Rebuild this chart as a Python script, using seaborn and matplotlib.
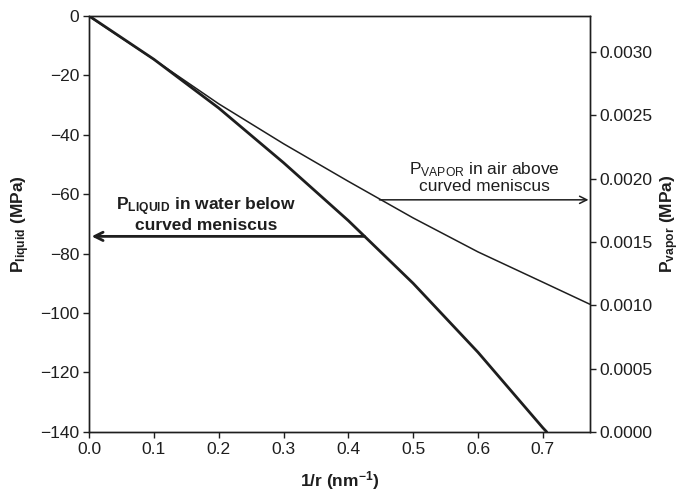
import matplotlib
matplotlib.use("Agg")
import matplotlib.pyplot as plt
import seaborn as sns
import pandas as pd

# Data
x_liquid = [0.0, 0.1, 0.2, 0.3, 0.4, 0.5, 0.6, 0.7, 0.706]
p_liquid = [0.0, -14.6, -31.0, -49.4, -68.9, -90.0, -113.2, -138.6, -140.0]

x_vapor = [0.0, 0.1, 0.16, 0.2, 0.3, 0.4, 0.5, 0.6, 0.7, 0.7725]
p_vapor = [0.00328, 0.00294, 0.00273, 0.00259, 0.002275, 0.001978, 0.001689, 0.001421, 0.001182, 0.001008]

x_ticks = [0.0, 0.1, 0.2, 0.3, 0.4, 0.5, 0.6, 0.7]
left_ticks = [0, -20, -40, -60, -80, -100, -120, -140]
right_ticks = [0.0, 0.0005, 0.0010, 0.0015, 0.0020, 0.0025, 0.0030]

sns.set_style("ticks")
plt.rcParams["font.family"] = ["Liberation Sans", "DejaVu Sans"]
plt.rcParams["mathtext.fontset"] = "custom"
plt.rcParams["mathtext.rm"] = "Liberation Sans"
plt.rcParams["mathtext.it"] = "Liberation Sans:italic"
plt.rcParams["mathtext.bf"] = "Liberation Sans:bold"
plt.rcParams["axes.unicode_minus"] = True

ink = "#1e1e1e"
fs = 12.5
fig = plt.figure(figsize=(6.85, 4.97), dpi=100)
ax = fig.add_axes([0.130, 0.131, 0.731, 0.837])

df_l = pd.DataFrame({"x": x_liquid, "y": p_liquid})
df_v = pd.DataFrame({"x": x_vapor, "y": p_vapor})

sns.lineplot(data=df_l, x="x", y="y", ax=ax, color=ink, linewidth=2.0, sort=False)
ax.set_xlim(0, 0.7725)
ax.set_ylim(-140, 0)
ax.set_xticks(x_ticks)
ax.set_xticklabels([f"{v:.1f}" for v in x_ticks])
ax.set_yticks(left_ticks)
ax.set_yticklabels([f"{v}".replace("-", "\u2212") for v in left_ticks])

ax2 = ax.twinx()
sns.lineplot(data=df_v, x="x", y="y", ax=ax2, color=ink, linewidth=1.1, sort=False)
ax2.set_ylim(0, 0.003284)
ax2.set_yticks(right_ticks)
ax2.set_yticklabels([f"{v:.4f}" for v in right_ticks])
ax2.set_xlim(0, 0.7725)

for a in (ax, ax2):
    for s in a.spines.values():
        s.set_visible(True)
        s.set_color(ink)
        s.set_linewidth(1.0)
    a.tick_params(direction="out", length=4, width=1.0, color=ink,
                  labelsize=fs, labelcolor=ink, pad=3)

ax.set_xlabel(r"1/r (nm$^{\mathbf{-1}}$)", fontsize=fs, fontweight="bold", color=ink, labelpad=9)
ax.set_ylabel(r"$\mathbf{P_{liquid}}$ (MPa)", fontsize=fs, fontweight="bold", color=ink, labelpad=6)
ax2.set_ylabel(r"$\mathbf{P_{vapor}}$ (MPa)", fontsize=fs, fontweight="bold", color=ink, labelpad=4)

# Annotation: liquid arrow
ax.annotate("", xy=(0.004, -74.2), xytext=(0.425, -74.2),
            arrowprops=dict(arrowstyle="->", color=ink, lw=2.0,
                            mutation_scale=15, shrinkA=0, shrinkB=0))
ax.text(0.180, -66.6, r"$\mathbf{P_{LIQUID}}$ in water below" + "\ncurved meniscus",
        ha="center", va="center", fontsize=fs, fontweight="bold", color=ink,
        linespacing=1.0)

# Annotation: vapor arrow
ax2.annotate("", xy=(0.7705, 0.001832), xytext=(0.448, 0.001832),
             arrowprops=dict(arrowstyle="->", color=ink, lw=1.1,
                             mutation_scale=13, shrinkA=0, shrinkB=0))
ax2.text(0.610, 0.00201, r"P$_{\mathrm{VAPOR}}$ in air above" + "\ncurved meniscus",
         ha="center", va="center", fontsize=fs, color=ink, linespacing=1.0)

fig.savefig("out.png", dpi=100)
